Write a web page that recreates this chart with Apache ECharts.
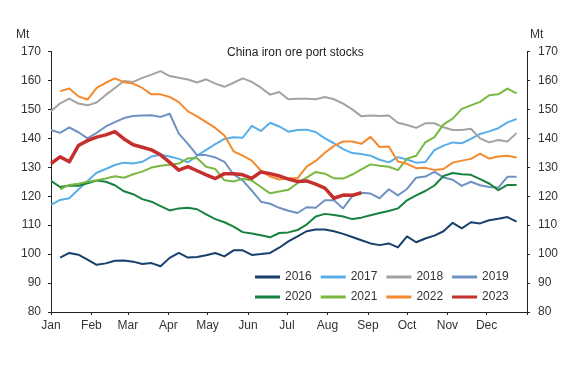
<!DOCTYPE html>
<html>
<head>
<meta charset="utf-8">
<script src="https://cdn.jsdelivr.net/npm/echarts@6/dist/echarts.min.js"></script>
<style>
html,body{margin:0;padding:0;background:#fff;}
#c{width:585px;height:368px;}
</style>
</head>
<body>
<div id="c"></div>
<script>
// Month tick positions (day of year) and labels
const monthStarts = [0, 31, 59, 90, 120, 151, 181, 212, 243, 273, 304, 334, 365];
const monthLabels = ['Jan','Feb','Mar','Apr','May','Jun','Jul','Aug','Sep','Oct','Nov','Dec'];
const yTicks = [80, 90, 100, 110, 120, 130, 140, 150, 160, 170];

// Weekly values (Mt); startDay = day of year of first value
const y2016Start = 7;
const y2016 = [98.8,100.4,99.8,98.1,96.3,96.8,97.7,97.8,97.4,96.6,96.9,95.8,98.7,100.4,98.8,99,99.6,100.4,99.2,101.3,101.3,99.7,100,100.4,102.2,104.4,106.1,107.9,108.5,108.5,107.9,107,105.9,104.8,103.7,103.1,103.7,102.3,106.1,104.1,105.4,106.4,107.9,110.8,108.9,111,110.6,111.7,112.2,112.8,111.2];
const y2017Start = 0;
const y2017 = [117,118.7,119.3,122.3,125.3,128.1,129.4,130.8,131.6,131.3,131.9,133.7,134.3,133.7,132.9,131.7,134,136,138,139.8,140.4,140.2,144.3,142.5,145.4,144.1,142.3,142.9,143,142.2,140,138.3,136.3,134.9,134.6,134,132.6,131.7,133.5,132.7,131.6,131.8,135.9,137.5,138.6,138.3,139.8,141.5,142.4,143.5,145.5,146.7];
const y2018Start = 0;
const y2018 = [149.4,152.1,153.7,152,151.4,152.4,155,157.4,159.8,159.5,160.9,162,163.2,161.5,160.9,160.3,159.3,160.4,158.9,157.8,159.2,160.7,159.5,157.5,155.1,156,153.5,153.7,153.7,153.5,154.3,153.5,152,150,147.6,147.9,147.7,147.9,145.4,144.6,143.6,145.2,145.2,143.8,142.9,142.9,143.3,140,138.6,139.4,138.9,141.8];
const y2019Start = 0;
const y2019 = [142.9,141.9,143.8,142.1,140,141.9,144.1,145.6,147,147.7,147.9,148,147.4,148.5,141.6,138.1,134.2,134.2,133.4,131.9,127.5,125.5,121.9,118.1,117.4,116,115,114.2,116.2,116,118.6,118.6,115.8,120,121.2,120.9,119.3,122.4,120.3,122.5,126.4,126.8,128.4,126.5,125.7,123.6,125,123.8,123.2,123,126.7,126.7];
const y2020Start = 0;
const y2020 = [125.3,123.2,123.7,123.6,124.5,125.4,125,123.8,121.7,120.7,119,118.1,116.6,115.1,115.8,116,115.5,113.7,112.1,111,109.5,107.6,107.1,106.5,105.8,107.3,107.5,108.3,110.2,113,113.9,113.5,113,112.1,112.6,113.4,114.2,114.9,115.8,118.6,120.3,121.8,123.7,127,128,127.6,127.4,125.9,124.4,122.1,123.9,123.9];
const y2021Start = 7;
const y2021 = [122.4,123.9,124.3,125,125.5,126.1,126.9,126.4,127.6,128.5,129.9,130.5,130.9,131.3,133.1,133.1,130.2,129.4,125.5,125.1,126,125.4,123.2,121,121.6,122.2,124.5,126.4,128.4,127.8,126.2,126.1,127.5,129.3,131,130.5,130.2,129,133,134,138.6,140.4,144.8,146.8,150.2,151.4,152.6,154.9,155.2,157.2,155.5];
const y2022Start = 7;
const y2022 = [156.3,157.2,154.5,153.4,157.4,159.2,160.7,159.4,158.9,157.4,155.2,155.2,154.3,152.5,149.3,147.6,145.6,143.6,141,135.5,134,132.3,128.8,126.8,125.8,126.2,126.2,130.2,132.2,135,137.4,138.9,138.9,138.1,140.5,137,137.2,132,131.2,129.7,129.8,129.1,129.4,131.6,132.3,132.9,134.7,133,133.7,134,133.4];
const y2023Start = 0;
const y2023 = [131.3,133.6,131.9,137.5,139.2,140.4,141.2,142.3,139.8,137.8,136.9,136,134.3,131.7,129,130.2,128.8,127.4,126.1,127.8,127.8,127.4,126.2,128.4,127.8,127,125.9,125.1,125.3,124.2,122.8,119.3,120.4,120.3,121.2];

const seriesDefs = [
  {name:'2016', start:y2016Start, vals:y2016, color:'#17406d', w:2},
  {name:'2017', start:y2017Start, vals:y2017, color:'#5aaee8', w:2},
  {name:'2018', start:y2018Start, vals:y2018, color:'#a3a3a3', w:2},
  {name:'2019', start:y2019Start, vals:y2019, color:'#6f92c2', w:2},
  {name:'2020', start:y2020Start, vals:y2020, color:'#178240', w:2},
  {name:'2021', start:y2021Start, vals:y2021, color:'#7ab842', w:2},
  {name:'2022', start:y2022Start, vals:y2022, color:'#f5892e', w:2},
  {name:'2023', start:y2023Start, vals:y2023, color:'#c5302e', w:3.5}
];

const FONT = "'Liberation Sans', Arial, sans-serif";
const chart = echarts.init(document.getElementById('c'), null, {renderer:'canvas'});

const axisCommon = {
  axisLine:{show:true, lineStyle:{color:'#222', width:1}},
  axisTick:{show:true, length:3, lineStyle:{color:'#222'}},
  splitLine:{show:false}
};

const legendCommon = {
  orient:'horizontal', icon:'rect', itemWidth:25, itemHeight:3, itemGap:9,
  textStyle:{fontFamily:FONT, fontSize:12, color:'#333'}, selectedMode:false
};

chart.setOption({
  animation:false,
  backgroundColor:'#fff',
  title:{text:'China iron ore port stocks', left:222, top:42,
    textStyle:{fontFamily:FONT, fontSize:12, fontWeight:'normal', color:'#222'}},
  grid:{left:51, right:58, top:51.5, bottom:56, containLabel:false},
  legend:[
    Object.assign({}, legendCommon, {data:['2016','2017','2018','2019'], left:250, top:266}),
    Object.assign({}, legendCommon, {data:['2020','2021','2022','2023'], left:250, top:286})
  ],
  graphic:[
    {type:'text', left:16, top:29, style:{text:'Mt', font:'12px ' + FONT, fill:'#333'}},
    {type:'text', left:530, top:29, style:{text:'Mt', font:'12px ' + FONT, fill:'#333'}}
  ],
  xAxis:Object.assign({}, axisCommon, {
    type:'value', min:0, max:365,
    axisTick:{show:true, length:3, lineStyle:{color:'#222'}, customValues:monthStarts},
    axisLabel:{customValues:monthStarts.slice(0,12), margin:8, fontFamily:FONT, fontSize:12, color:'#333',
      formatter:function(v){ const i = monthStarts.indexOf(v); return i >= 0 && i < 12 ? monthLabels[i] : ''; }}
  }),
  yAxis:[
    Object.assign({}, axisCommon, {type:'value', position:'left', min:yTicks[0], max:yTicks[yTicks.length-1], interval:10,
      axisLabel:{margin:10, fontFamily:FONT, fontSize:12, color:'#333'}}),
    Object.assign({}, axisCommon, {type:'value', position:'right', min:yTicks[0], max:yTicks[yTicks.length-1], interval:10,
      axisLabel:{margin:11, fontFamily:FONT, fontSize:12, color:'#333'}})
  ],
  series:seriesDefs.map(function(s){
    return {
      name:s.name, type:'line', yAxisIndex:0, symbol:'none', smooth:false,
      itemStyle:{color:s.color},
      lineStyle:{color:s.color, width:s.w, join:'round'},
      data:s.vals.map(function(v,i){ return [s.start + 7*i, v]; })
    };
  })
});
</script>
</body>
</html>
